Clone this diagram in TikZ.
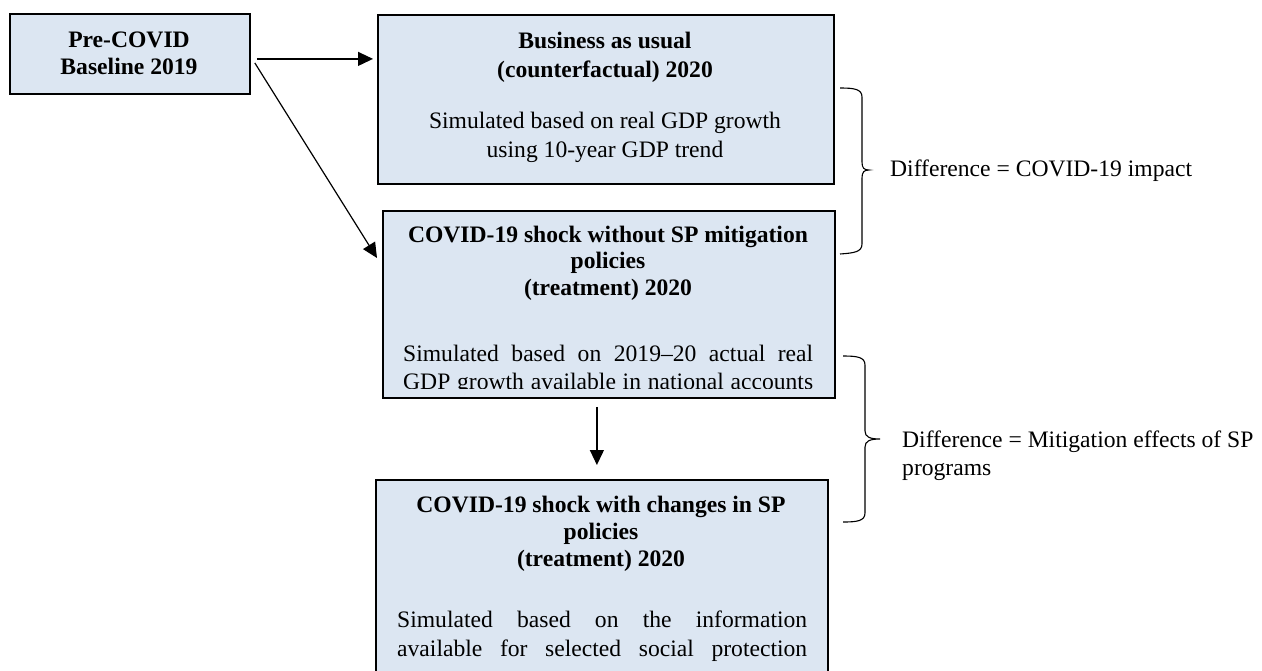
\documentclass[tikz,border=0pt]{standalone}
\usepackage{fontspec}
\setmainfont{Liberation Serif}
\usetikzlibrary{arrows.meta,calc}
\definecolor{boxfill}{HTML}{DCE6F2}
\begin{document}
\begin{tikzpicture}[x=1pt,y=-1pt,
  box/.style={draw=black, line width=1.8pt, fill=boxfill, rectangle, inner sep=0pt, anchor=north west},
  txt/.style={font=\fontsize{23.6pt}{29pt}\selectfont, inner sep=0pt, anchor=base},
  ttl/.style={txt, font=\fontsize{23.6pt}{29pt}\selectfont\bfseries},
  jst/.style={txt, anchor=base west},
  arr/.style={line width=1.2pt, -{Triangle[length=15pt,width=14pt]}},
  brace/.style={line width=1.1pt},
]
\useasboundingbox (0,0) rectangle (1262,670);
\clip (0,0) rectangle (1262,670);

% boxes
\node[box, minimum width=240pt, minimum height=80pt] (pre) at (9,13) {};
\node[box, minimum width=456pt, minimum height=169pt] (bau) at (377,14) {};
\node[box, minimum width=452pt, minimum height=187pt] (sh) at (382,210) {};
\node[box, minimum width=452pt, minimum height=300pt] (wc) at (375,479) {};

% texts
\node[ttl] (preA) at (129,47) {Pre-COVID};
\node[ttl] (preB) at (129,74) {Baseline 2019};

\node[ttl] (bauA) at (605,48) {Business as usual};
\node[ttl] (bauB) at (605,77) {(counterfactual) 2020};
\node[txt] (bauC) at (605,128) {Simulated based on real GDP growth};
\node[txt] (bauD) at (605,157) {using 10-year GDP trend};

\node[ttl] (shA) at (608,242) {COVID-19 shock without SP mitigation};
\node[ttl] (shB) at (608,268) {policies};
\node[ttl] (shC) at (608,295) {(treatment) 2020};
\begin{scope}
\clip (383,211) rectangle (833,388.5);
\node[jst] (shD) at (403,361) {\makebox[410pt][s]{Simulated based on 2019–20 actual real}};
\node[jst] (shE) at (403,389) {\makebox[410pt][s]{GDP growth available in national accounts}};
\end{scope}

\node[ttl] (wcA) at (601,512) {COVID-19 shock with changes in SP};
\node[ttl] (wcB) at (601,539) {policies};
\node[ttl] (wcC) at (601,566) {(treatment) 2020};
\node[jst] (wcD) at (397,627) {\makebox[410pt][s]{Simulated based on the information}};
\node[jst] (wcE) at (397,656) {\makebox[410pt][s]{available for selected social protection}};

% labels
\node[jst] (d1) at (890,176) {Difference = COVID-19 impact};
\node[jst] (d2) at (902,447) {Difference = Mitigation effects of SP};
\node[jst] (d3) at (902,475) {programs};

% arrows
\coordinate (a1s) at ($(pre.east)+(6,5)$);
\draw[arr, shorten >=4pt] (a1s) -- (a1s -| bau.west);
\coordinate (a2s) at ($(pre.east)+(4,9)$);
\coordinate (a2e) at ($(sh.north west)+(-5,48)$);
\draw[arr] (a2s) -- (a2e);
\coordinate (a3s) at ($(sh.south)+(-12,8)$);
\draw[arr, shorten >=14pt] (a3s) -- (a3s |- wc.north);

% braces
\draw[brace] (840,88) .. controls (854,88) and (862,89) .. (862,97) -- (862,162)
  .. controls (862,168) and (864,170) .. (869,170)
  .. controls (864,170) and (862,172) .. (862,178) -- (862,244)
  .. controls (862,252) and (854,253) .. (840,254);
\draw[brace] (843,356) .. controls (857,356) and (865,357) .. (865,365) -- (865,431)
  .. controls (865,437) and (870,439) .. (880,439)
  .. controls (870,439) and (865,441) .. (865,447) -- (865,513)
  .. controls (865,521) and (857,522) .. (843,522);
\end{tikzpicture}
\end{document}
